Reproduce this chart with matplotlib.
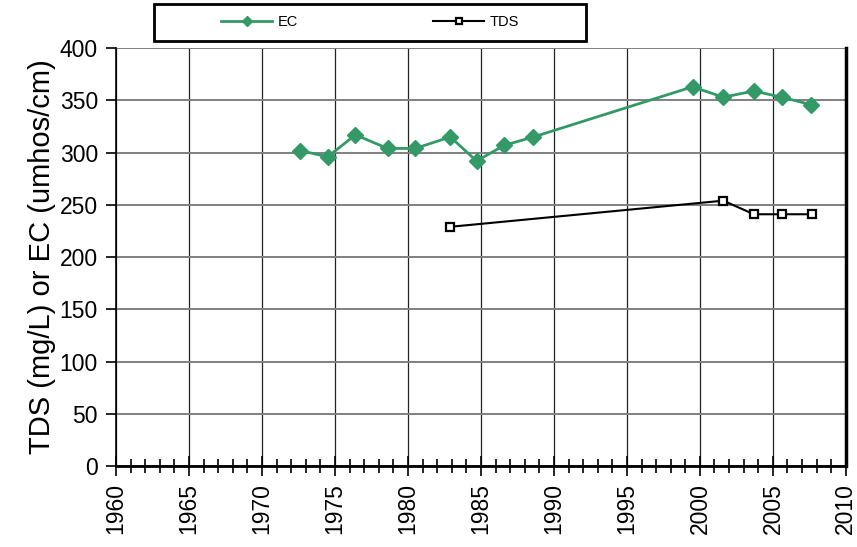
import matplotlib.pyplot as plt
from matplotlib.patches import Rectangle
from matplotlib.ticker import MultipleLocator

plt.rcParams['font.family'] = ['Liberation Sans', 'DejaVu Sans']

# EC (umhos/cm)
ec_years = [1972.6, 1974.5, 1976.4, 1978.6, 1980.5, 1982.9, 1984.7, 1986.6, 1988.6,
            1999.5, 2001.6, 2003.7, 2005.6, 2007.6]
ec_vals = [302, 296, 317, 304, 304, 315, 292, 307, 315, 363, 353, 359, 353, 346]

# TDS (mg/L)
tds_years = [1982.9, 2001.6, 2003.7, 2005.6, 2007.7]
tds_vals = [229, 254, 241, 241, 241]

x_ticks = list(range(1960, 2011, 5))

fig = plt.figure(figsize=(8.57, 5.47), dpi=100)
ax = fig.add_axes([0.1354, 0.148, 0.8516, 0.764])

ax.plot(ec_years, ec_vals, color='#339966', lw=2, marker='D', ms=8,
        mec='#339966', mfc='#339966', label='EC', zorder=4)
ax.plot(tds_years, tds_vals, color='black', lw=1.5, marker='s', ms=6,
        mec='black', mfc='white', mew=1.6, label='TDS', zorder=4)

ax.set_xlim(1960, 2010)
ax.set_ylim(0, 400)
ax.set_xticks(x_ticks)
ax.set_xticklabels([str(y) for y in x_ticks], rotation=90)
ax.xaxis.set_minor_locator(MultipleLocator(1))
ax.yaxis.set_major_locator(MultipleLocator(50))

ax.grid(axis='x', which='major', color='#222222', lw=0.9)
ax.grid(axis='y', which='major', color='#808080', lw=1.4)
ax.set_axisbelow(True)

ax.tick_params(axis='x', which='major', direction='inout', length=14, width=1.2,
               labelsize=16.5, pad=5)
ax.tick_params(axis='x', which='minor', direction='inout', length=10, width=1.2)
ax.tick_params(axis='y', which='major', direction='out', length=7, width=1.2,
               labelsize=16.5, left=True, right=False, pad=6)
ax.tick_params(axis='y', which='minor', left=False)

for side in ['top', 'left', 'bottom']:
    ax.spines[side].set_linewidth(1.2)
ax.spines['top'].set_visible(False)
ax.spines['right'].set_linewidth(2.5)
ax.spines['bottom'].set_linewidth(2)

ax.set_ylabel('TDS (mg/L) or EC (umhos/cm)', fontsize=21, labelpad=3)

# legend box drawn separately, entries centred inside it
fig.patches.append(Rectangle((154 / 857, 1 - 41 / 547), 432 / 857, 37 / 547,
                             transform=fig.transFigure, fill=False,
                             edgecolor='black', lw=2))
fig.legend(loc='center', bbox_to_anchor=(370 / 857, 1 - 22.5 / 547), ncol=2,
           fontsize=10.5, frameon=False, handlelength=3.5, handletextpad=0.35,
           columnspacing=9.3, markerscale=0.65, borderaxespad=0)

fig.savefig('out.png', dpi=100)
